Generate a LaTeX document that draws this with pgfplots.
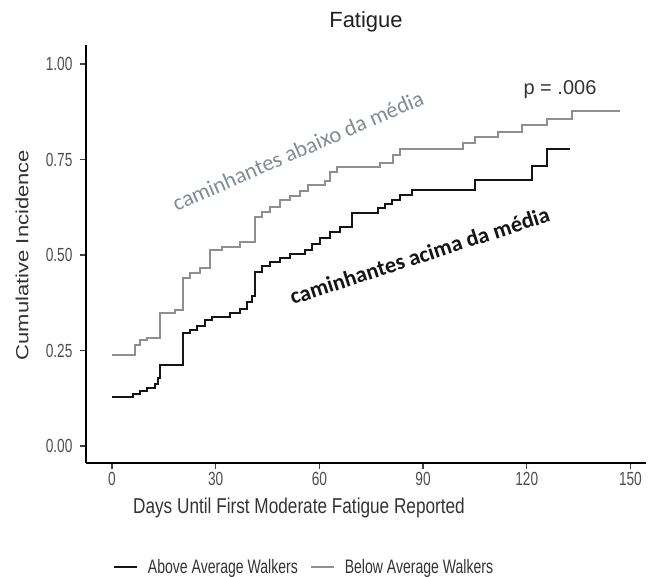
\documentclass[border=0pt]{standalone}
\usepackage{pgfplots}
\pgfplotsset{compat=1.18}
\usepackage{fontspec}
\setmainfont{Liberation Sans}[FakeStretch=0.8]
\newfontfamily\plainfont{Liberation Sans}
\newfontfamily\tickfont{Liberation Sans}[FakeStretch=0.72]
\newfontfamily\annotfont{Carlito}
\definecolor{tickgray}{HTML}{4D4D4D}
\definecolor{labgray}{HTML}{333333}
\definecolor{linegray}{HTML}{8F8F8F}
\definecolor{annotgray}{HTML}{7F8C97}
\definecolor{lineblack}{HTML}{151515}
\pgfplotstableread{
day val
0 0.238
6.7 0.264
8.1 0.277
10 0.283
13.9 0.348
18.2 0.356
20.5 0.44
22.6 0.453
25.5 0.466
28.4 0.513
31.8 0.521
37 0.534
41.4 0.6
43.4 0.613
45.7 0.626
48.6 0.644
51.5 0.654
54.4 0.668
56.7 0.683
61.6 0.694
63.1 0.717
65.1 0.73
77.6 0.741
81.3 0.762
83.4 0.777
101.6 0.793
105.1 0.809
111.7 0.822
118.7 0.84
125.9 0.856
133.1 0.877
147 0.877
}\below
\pgfplotstableread{
day val
0 0.128
6.1 0.136
8.1 0.144
10.1 0.152
12.4 0.162
13.3 0.178
13.9 0.212
20.5 0.296
22.6 0.304
24.6 0.314
26.9 0.33
28.9 0.338
34.2 0.348
37 0.359
39.1 0.377
40.5 0.393
41.4 0.455
43.4 0.471
45.7 0.482
48.6 0.492
51.5 0.503
55.9 0.513
57.9 0.529
60.2 0.545
63.1 0.56
66 0.573
69.5 0.61
77 0.623
79 0.634
81 0.644
83.4 0.657
86.8 0.67
105.1 0.696
121.6 0.733
125.9 0.777
132.6 0.777
}\above
\begin{document}
\begin{tikzpicture}[x=1pt,y=1pt]
\path[use as bounding box] (0,0) rectangle (649,577);
\begin{axis}[
  at={(86pt,114pt)}, anchor=south west,
  scale only axis, width=560pt, height=418pt,
  xmin=-7.53, xmax=154.5, ymin=-0.0445, ymax=1.05,
  axis x line*=bottom, axis y line*=left,
  axis line style={-, line width=2pt, black},
  xtick={0,30,60,90,120,150}, ytick={0,0.25,0.5,0.75,1},
  tick align=outside, major tick length=6pt,
  tick style={black!75, line width=1.2pt},
  ticklabel style={font=\tickfont\fontsize{19}{19}\selectfont, text=tickgray},
  /pgf/number format/assume math mode=true,
  yticklabel style={xshift=-4pt, /pgf/number format/fixed, /pgf/number format/precision=2, /pgf/number format/fixed zerofill},
  legend columns=2,
  legend style={at={(axis description cs:0.389,-0.249)}, anchor=center, draw=none, fill=none,
    font=\tickfont\fontsize{19.5}{19.5}\selectfont, text=labgray,
    /tikz/every even column/.append style={column sep=10pt}},
  legend image code/.code={\draw[#1] (0pt,0pt) -- (23pt,0pt);},
]
\addplot[const plot, lineblack, line width=2.4pt] table[x=day, y=val] {\above};
\addlegendentry{\hspace{8pt}Above Average Walkers}
\addplot[const plot, linegray, line width=2pt] table[x=day, y=val] {\below};
\addlegendentry{\hspace{8pt}Below Average Walkers}
\end{axis}
\node[font=\plainfont\fontsize{22}{22}\selectfont, text=black!87, anchor=base] at (366,549) {Fatigue};
\node[font=\fontsize{21.5}{21.5}\selectfont, text=labgray, anchor=base] at (299,63) {Days Until First Moderate Fatigue Reported};
\node[text=labgray, anchor=center] at (22,322) {\rotatebox{90}{\scalebox{1}[0.8]{\plainfont\fontsize{22}{22}\selectfont Cumulative Incidence}}};
\node[font=\plainfont\fontsize{20}{20}\selectfont, text=labgray, anchor=base] at (560,482) {p = .006};
\node[font=\annotfont\fontsize{22.5}{22.5}\selectfont, text=annotgray, rotate=23.4, anchor=base] at (301,419.5) {caminhantes abaixo da média};
\node[font=\annotfont\bfseries\fontsize{22.5}{22.5}\selectfont, text=lineblack, rotate=18, anchor=base] at (422,314) {caminhantes acima da média};
\end{tikzpicture}
\end{document}
